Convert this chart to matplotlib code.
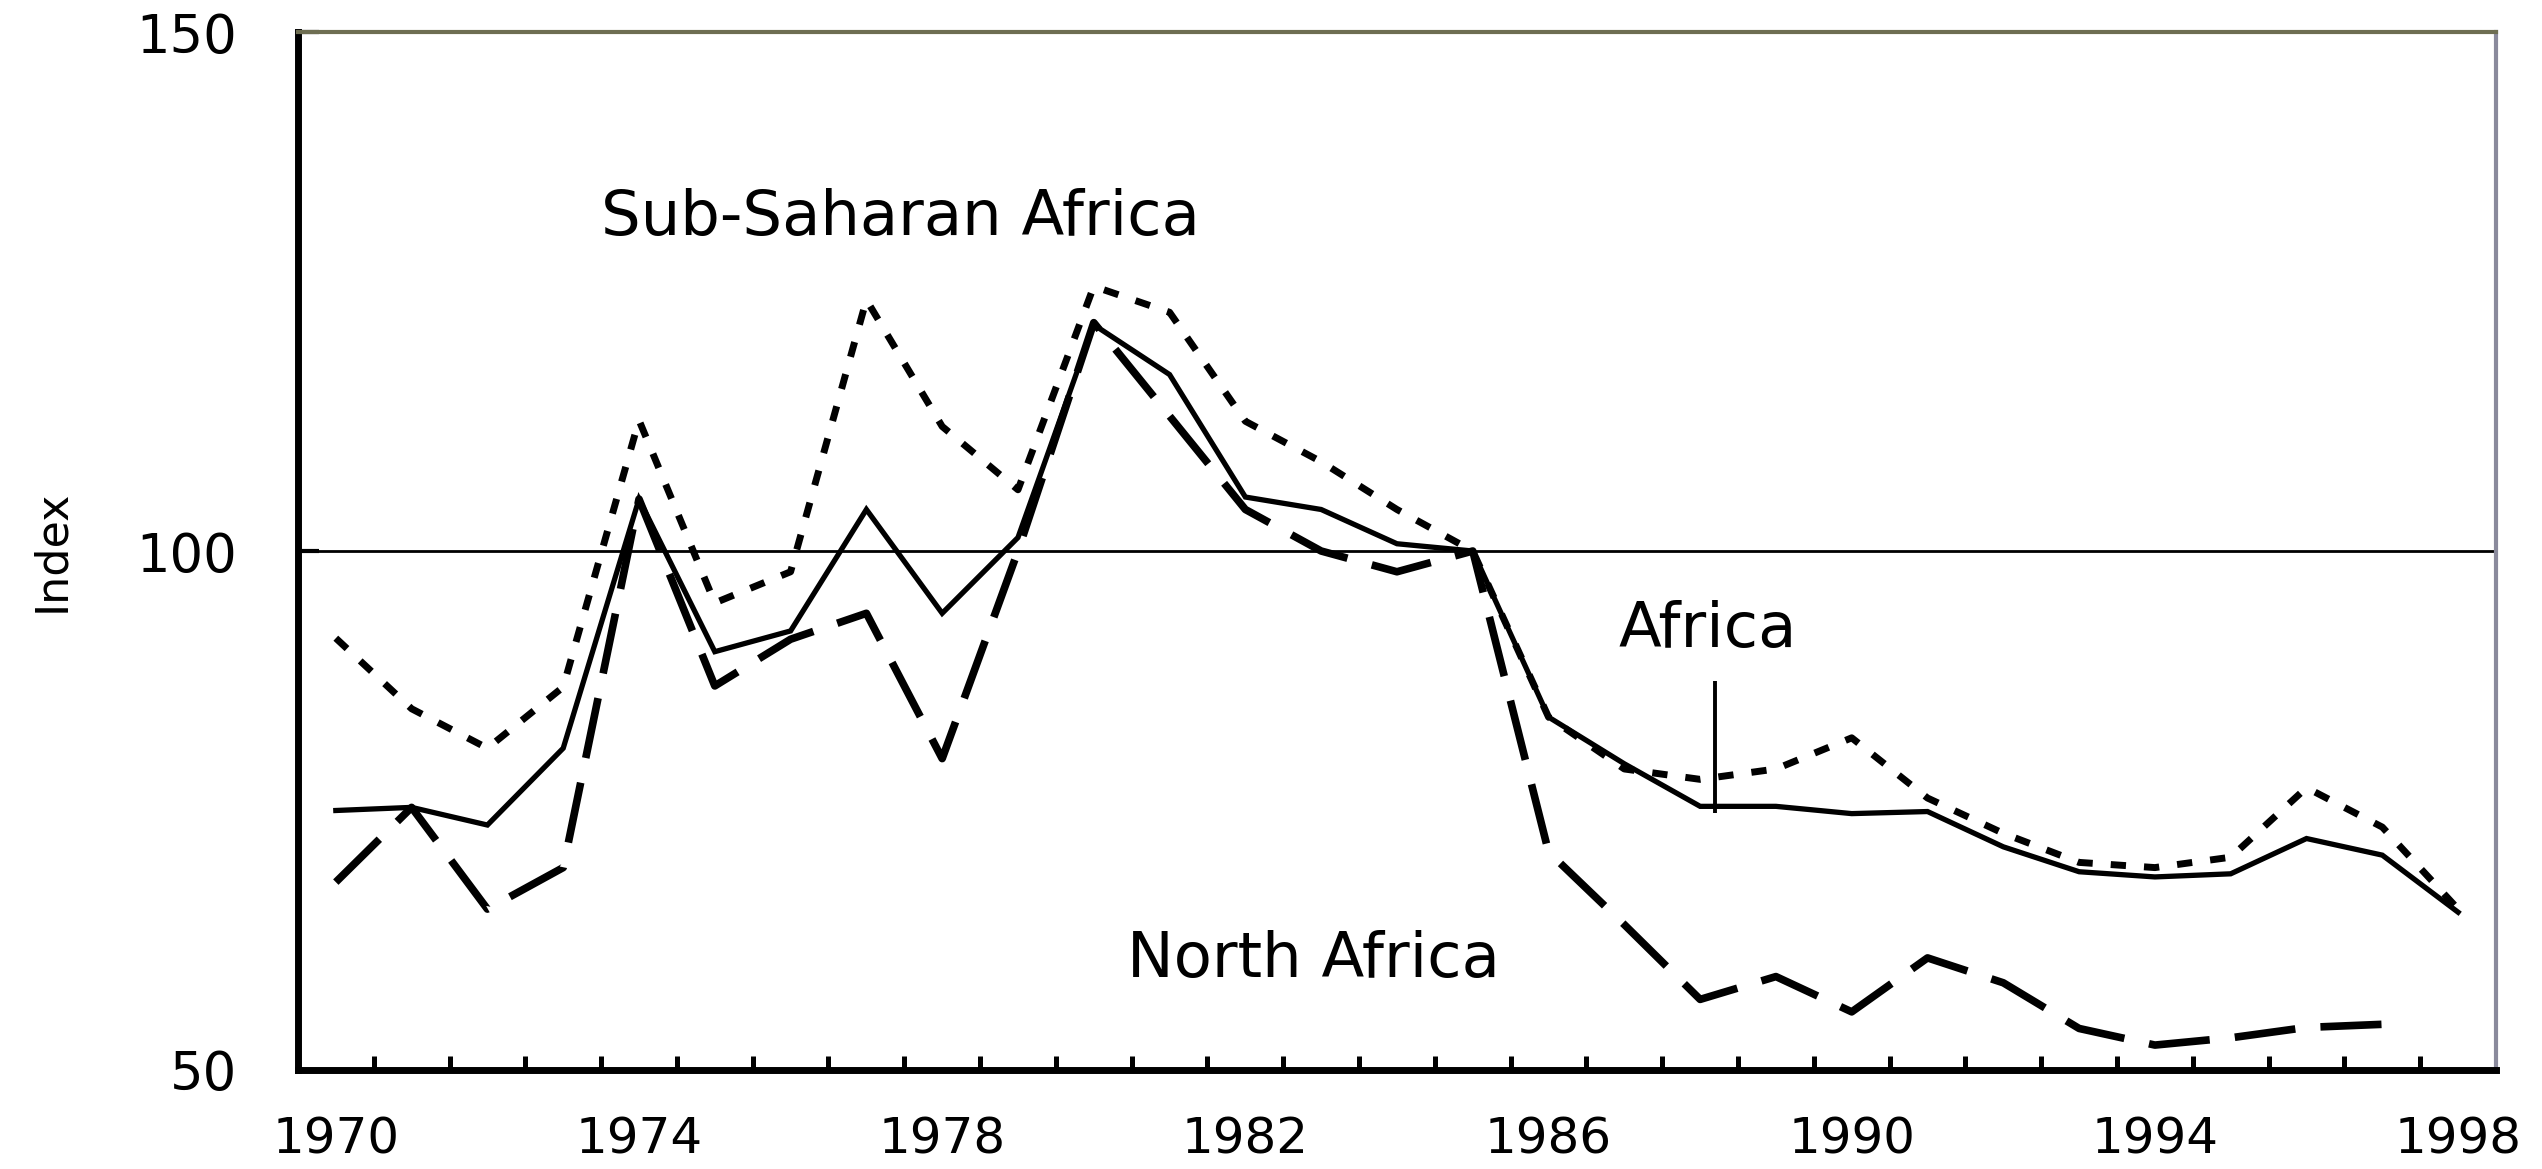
import numpy as np
import matplotlib
matplotlib.use("Agg")
import matplotlib.pyplot as plt
from matplotlib.ticker import FixedLocator

years = list(range(1970, 1999))

africa = [75.0, 75.3, 73.6, 81.0, 105.0, 90.3, 92.3, 104.0, 94.0, 101.3,
          121.8, 117.0, 105.2, 104.0, 100.7, 100.0, 84.0, 79.5, 75.4, 75.4,
          74.7, 74.9, 71.5, 69.1, 68.6, 68.9, 72.3, 70.7, 65.2]

sub_saharan = [91.6, 84.8, 81.0, 86.9, 112.6, 95.0, 98.0, 124.2, 112.0, 105.9,
               125.5, 123.0, 112.5, 108.6, 104.0, 100.0, 84.0, 79.0, 78.0, 79.0,
               82.0, 76.2, 72.8, 70.0, 69.5, 70.5, 77.2, 73.4, 65.5]

north_africa = [68.1, 75.3, 65.5, 69.5, 105.0, 87.0, 91.5, 94.0, 80.0, 100.0,
                122.0, 113.0, 104.0, 100.0, 98.0, 100.0, 71.0, 64.0, 56.8, 59.0,
                55.6, 60.8, 58.4, 54.0, 52.4, 53.1, 54.1, 54.4, np.nan]

xtick_labels = ["1970", "1974", "1978", "1982", "1986", "1990", "1994", "1998"]
ytick_values = [50, 100, 150]

FONT = ["DejaVu Sans"]
plt.rcParams["font.family"] = FONT

fig = plt.figure(figsize=(25.42, 11.69), dpi=100)
ax = fig.add_axes([0.1172, 0.0847, 0.8647, 0.8879])

ax.axhline(100, color="black", lw=2.0, zorder=1)

ax.plot(years, africa, color="black", lw=3.8, solid_joinstyle="miter", zorder=3)
ax.plot(years, sub_saharan, color="black", lw=5.0, linestyle=(0, (2.2, 2.6)),
        dash_capstyle="butt", zorder=3)
ax.plot(years, north_africa, color="black", lw=5.5, linestyle=(0, (8.0, 3.3)),
        dash_capstyle="butt", zorder=3)

ax.set_xlim(1969.5, 1998.5)
ax.set_ylim(50, 150)

# x axis: labels every 4 years, small inward ticks between categories
ax.xaxis.set_major_locator(FixedLocator([int(s) for s in xtick_labels]))
ax.set_xticklabels(xtick_labels)
ax.xaxis.set_minor_locator(FixedLocator([y + 0.5 for y in years[:-1]]))
ax.tick_params(axis="x", which="major", length=0, pad=33, labelsize=36)
ax.tick_params(axis="x", which="minor", direction="in", length=10, width=3.6,
               color="black")

ax.set_yticks(ytick_values)
ax.tick_params(axis="y", which="major", direction="in", length=15, width=3,
               pad=44, labelsize=38)

for side in ("left", "bottom"):
    ax.spines[side].set_linewidth(5)
    ax.spines[side].set_color("black")
ax.spines["top"].set_linewidth(3)
ax.spines["top"].set_color("#6e6e52")
ax.spines["right"].set_linewidth(3)
ax.spines["right"].set_color("#8a8a9c")

ax.set_ylabel("Index", fontsize=32, va="center")
ax.yaxis.set_label_coords(-0.112, 0.5)

ax.text(1977.45, 132.1, "Sub-Saharan Africa", fontsize=45, ha="center", va="center")
ax.text(1988.1, 92.4, "Africa", fontsize=45, ha="center", va="center")
ax.text(1982.9, 60.6, "North Africa", fontsize=45, ha="center", va="center")
ax.vlines(1988.2, 74.8, 87.5, color="black", lw=2.8, zorder=4)

fig.savefig("out.png", dpi=100, facecolor="white")
